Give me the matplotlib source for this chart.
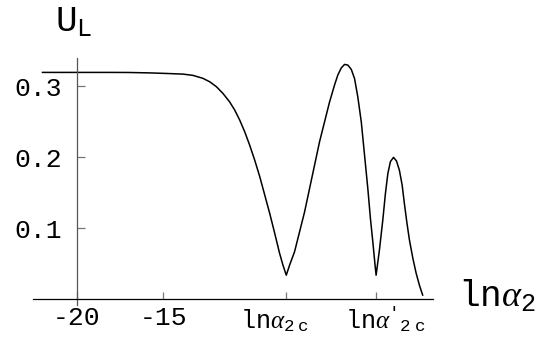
import matplotlib
matplotlib.use('Agg')
import matplotlib.pyplot as plt

plt.rcParams.update({
    'font.family': 'Liberation Mono',
    'mathtext.fontset': 'custom',
    'mathtext.rm': 'Liberation Mono',
    'mathtext.tt': 'Liberation Mono',
    'mathtext.it': 'Liberation Serif:italic',
})

W, H = 548, 339  # figure size in pixels

# curve (ln alpha_2 vs U_L)
ln_alpha = [-22.0, -20.0, -18.0, -17.0, -15.77, -14.8, -13.84, -13.27, -12.69, -12.30,
            -11.91, -11.53, -11.14, -10.85, -10.56, -10.27, -9.98, -9.69, -9.40, -9.11,
            -8.82, -8.53, -8.25, -8.05, -7.86, -7.67, -7.38, -7.09, -6.80, -6.51,
            -6.22, -5.93, -5.64, -5.35, -5.06, -4.87, -4.67, -4.48, -4.29, -4.09,
            -3.90, -3.71, -3.51, -3.32, -3.13, -2.98, -2.84, -2.71, -2.65, -2.46,
            -2.26, -2.11, -1.97, -1.82, -1.64, -1.47, -1.30, -1.14, -1.01, -0.87,
            -0.72, -0.52, -0.33, -0.14, 0.05]
u_l = [0.3197, 0.3197, 0.3197, 0.3196, 0.3190, 0.3182, 0.3173, 0.3155, 0.3113, 0.3065,
       0.2995, 0.290, 0.278, 0.2666, 0.2525, 0.236, 0.217, 0.196, 0.173, 0.147,
       0.121, 0.093, 0.065, 0.048, 0.034, 0.048, 0.067, 0.095, 0.123, 0.156,
       0.189, 0.222, 0.250, 0.278, 0.302, 0.316, 0.326, 0.331, 0.330, 0.324,
       0.311, 0.285, 0.250, 0.203, 0.156, 0.114, 0.081, 0.048, 0.034, 0.069,
       0.112, 0.149, 0.177, 0.194, 0.200, 0.195, 0.182, 0.161, 0.135, 0.109,
       0.084, 0.058, 0.037, 0.020, 0.006]

x_ticks = [-20, -15, -7.85, -2.64]
x_ticklabels = ['-20', '-15', '', '']
y_ticks = [0.1, 0.2, 0.3]
y_ticklabels = ['0.1', '0.2', '0.3']

fig = plt.figure(figsize=(W / 100, H / 100), dpi=100)
ax = fig.add_axes([33 / W, 34 / H, 400 / W, 247 / H])

ax.plot(ln_alpha, u_l, color='black', linewidth=1.1)

ax.set_xlim(-22.55, 0.65)
ax.set_ylim(-0.008, 0.340)

ax.spines['top'].set_visible(False)
ax.spines['right'].set_visible(False)
ax.spines['left'].set_position(('data', -20))
ax.spines['bottom'].set_position(('data', 0))
ax.spines['left'].set_color('#555555')
ax.spines['left'].set_linewidth(0.9)
ax.spines['bottom'].set_linewidth(0.9)

ax.set_xticks(x_ticks)
ax.set_xticklabels(x_ticklabels)
ax.set_yticks(y_ticks)
ax.set_yticklabels(y_ticklabels)
ax.tick_params(axis='x', direction='in', length=5, width=0.9, color='#777777',
               labelsize=19, pad=5)
ax.tick_params(axis='y', direction='in', length=5.5, width=0.9, color='#777777',
               labelsize=19, pad=10.5)
ax.patch.set_visible(False)

# symbolic tick labels, left-aligned as in the original
fig.text(240 / W, 1 - 328 / H, r'$\mathrm{ln}\alpha_{\mathrm{2\ c}}$', fontsize=18,
         ha='left', va='baseline')
fig.text(345 / W, 1 - 328 / H, r"$\mathrm{ln}\alpha\mathrm{'}_{\mathrm{2\ c}}$",
         fontsize=18, ha='left', va='baseline')

# axis labels
fig.text(55 / W, 1 - 32 / H, r'$\mathrm{U}_{\mathrm{L}}$', fontsize=26,
         ha='left', va='baseline')
fig.text(458 / W, 1 - 307 / H, r'$\mathrm{ln}\alpha_{\mathrm{2}}$', fontsize=26,
         ha='left', va='baseline')

fig.savefig('out.png', dpi=100)
plt.close()
